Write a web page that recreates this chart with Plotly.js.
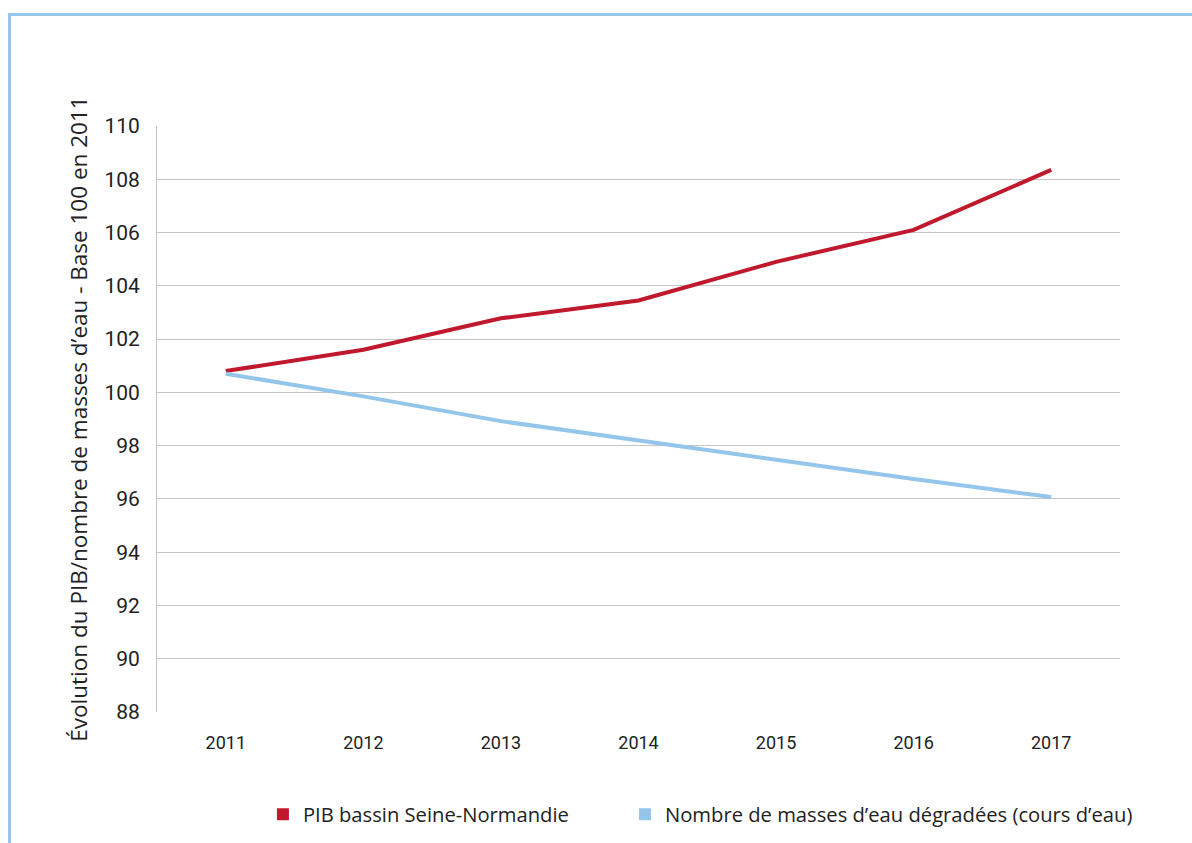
<!DOCTYPE html>
<html><head><meta charset="utf-8">
<script src="https://cdn.plot.ly/plotly-3.0.1.min.js"></script>
<style>
html,body{margin:0;padding:0;background:#fff;}
#wrap{position:relative;width:1192px;height:843px;}
#chart{width:1192px;height:843px;}
#frame{position:absolute;left:8px;top:13px;right:0;bottom:0;border-top:3px solid #93c6ea;border-left:3px solid #93c6ea;pointer-events:none;}
</style></head>
<body><div id="wrap"><div id="chart"></div><div id="frame"></div></div>
<script>
const years = ['2011','2012','2013','2014','2015','2016','2017'];
const pibSeine = [100.8, 101.6, 102.78, 103.45, 104.9, 106.1, 108.35];
const massesDegradees = [100.7, 99.85, 98.92, 98.2, 97.47, 96.75, 96.07];
const seriesNames = ['PIB bassin Seine-Normandie', 'Nombre de masses d\u2019eau dégradées (cours d\u2019eau)'];
const colors = ['#c0182c', '#93c6ea'];
const yTicks = [88,90,92,94,96,98,100,102,104,106,108,110];

const font = 'Roboto, "Liberation Sans", sans-serif';
const wideFont = '"Open Sans", Roboto, sans-serif';
const traces = [
  {x: years, y: pibSeine, mode: 'lines', line: {color: colors[0], width: 4}, showlegend: false, hoverinfo: 'x+y'},
  {x: years, y: massesDegradees, mode: 'lines', line: {color: colors[1], width: 4}, showlegend: false, hoverinfo: 'x+y'},
  {x: [null], y: [null], mode: 'markers', name: seriesNames[0], legend: 'legend', marker: {symbol: 'square', size: 12, color: colors[0]}},
  {x: [null], y: [null], mode: 'markers', name: seriesNames[1], legend: 'legend2', marker: {symbol: 'square', size: 12, color: colors[1]}}
];
const legendBase = {orientation: 'h', y: -0.175, yanchor: 'middle', xanchor: 'left',
  font: {family: wideFont, size: 20.2, color: '#222'}, itemwidth: 30, bgcolor: 'rgba(0,0,0,0)'};
const layout = {
  width: 1192, height: 843,
  margin: {l: 157, r: 72, t: 126, b: 131, autoexpand: false},
  paper_bgcolor: '#fff', plot_bgcolor: '#fff',
  font: {family: font, color: '#222'},
  xaxis: {
    type: 'category', categoryorder: 'array', categoryarray: years,
    range: [-0.5, 6.5], automargin: false,
    showgrid: false, zeroline: false, showline: false, ticks: '',
    tickfont: {size: 18, color: '#222'}, ticklabelstandoff: 18
  },
  yaxis: {
    range: [88, 110], tickvals: yTicks, ticktext: yTicks.map(String), automargin: false,
    showgrid: true, gridcolor: '#c4c4c4', gridwidth: 1,
    zeroline: false, showline: true, linecolor: '#c4c4c4', linewidth: 1,
    ticks: '', tickfont: {size: 21, color: '#222'}, ticklabelstandoff: 12,
    title: {text: 'Évolution du PIB/nombre de masses d\u2019eau - Base 100 en 2011', font: {family: wideFont, size: 22.5, color: '#222'}, standoff: 10}
  },
  legend: Object.assign({}, legendBase, {x: 0.110}),
  legend2: Object.assign({}, legendBase, {x: 0.486}),
  showlegend: true
};
Plotly.newPlot('chart', traces, layout, {displayModeBar: false, staticPlot: true});
</script></body></html>
